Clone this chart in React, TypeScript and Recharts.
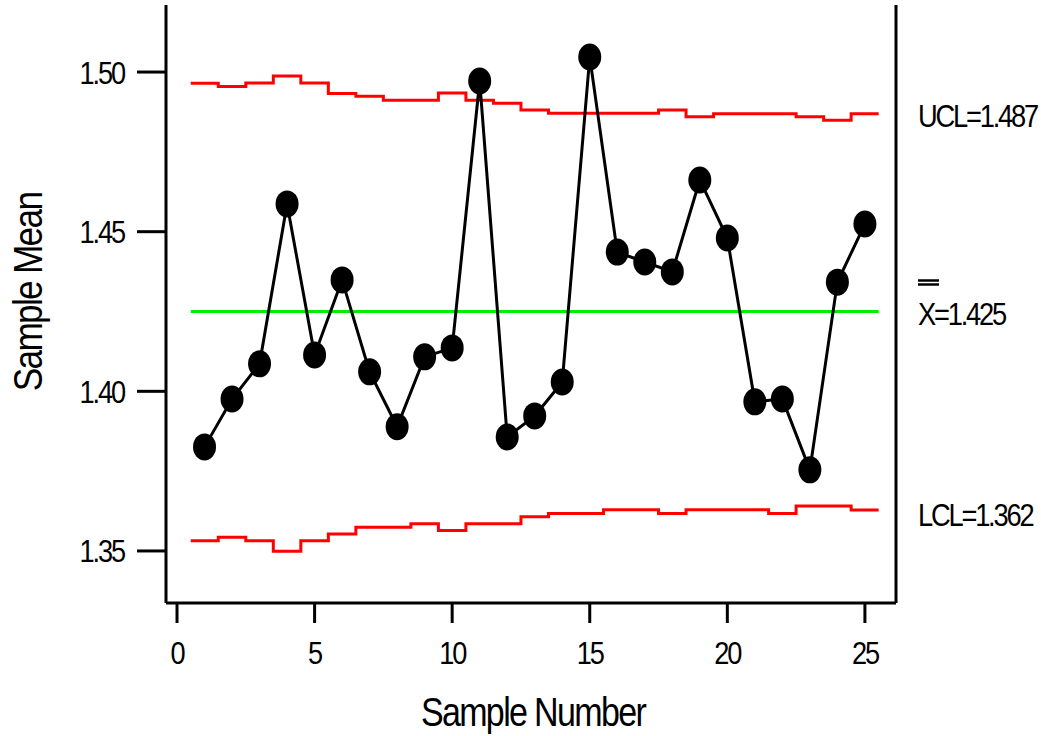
import { Line, LineChart, XAxis, YAxis } from 'recharts'

const sampleNumbers = [1, 2, 3, 4, 5, 6, 7, 8, 9, 10, 11, 12, 13, 14, 15, 16, 17, 18, 19, 20, 21, 22, 23, 24, 25]
const sampleMeans = [
  1.3826, 1.3976, 1.4086, 1.4587, 1.4114, 1.4349, 1.4061, 1.3889, 1.4108, 1.4136, 1.4972, 1.3857, 1.3923,
  1.4029, 1.5047, 1.4436, 1.4405, 1.4374, 1.4662, 1.448, 1.3967, 1.3976, 1.3754, 1.4342, 1.4524,
]
const uclValues = [
  1.4965, 1.4955, 1.4966, 1.4988, 1.4966, 1.4933, 1.4924, 1.4912, 1.4912, 1.4934, 1.4912, 1.4902, 1.4881,
  1.4871, 1.4871, 1.4871, 1.4871, 1.4881, 1.486, 1.4869, 1.4869, 1.4869, 1.486, 1.4849, 1.4869,
]
const lclValues = [
  1.3532, 1.3543, 1.3532, 1.3499, 1.3532, 1.3553, 1.3574, 1.3574, 1.3585, 1.3564, 1.3585, 1.3585, 1.3607,
  1.3617, 1.3617, 1.3629, 1.3629, 1.3617, 1.3629, 1.3629, 1.3629, 1.3617, 1.3641, 1.3641, 1.3628,
]
const centerValue = 1.425
const xTicks = [0, 5, 10, 15, 20, 25]
const yTicks = [1.35, 1.4, 1.45, 1.5]
const limitTicks = [1.362, 1.425, 1.487]
const limitLabels = ['LCL=1.362', '=1.425', 'UCL=1.487']

const FONT = '"Liberation Sans", Arial, sans-serif'
const Y_DOMAIN: [number, number] = [1.3337, 1.521]
const X_DOMAIN: [number, number] = [-0.4, 26.13]

const meanData = sampleNumbers.map((n, i) => ({ n, mean: sampleMeans[i] }))
// step limits: each sample's limit spans n-0.5 .. n+0.5
const stepData = (vals: number[]) => [
  ...sampleNumbers.map((n, i) => ({ n: n - 0.5, v: vals[i] })),
  { n: sampleNumbers[sampleNumbers.length - 1] + 0.5, v: vals[vals.length - 1] },
]
const uclData = stepData(uclValues)
const lclData = stepData(lclValues)
const centerData = [
  { n: sampleNumbers[0] - 0.5, v: centerValue },
  { n: sampleNumbers[sampleNumbers.length - 1] + 0.5, v: centerValue },
]

// narrow, tightly spaced text like the original plot
function NarrowText({ x, y, anchor, size, spacing = -2.5, sx = 0.85, rotate = 0, dy, children }: any) {
  return (
    <g transform={`translate(${x}, ${y}) rotate(${rotate}) scale(${sx}, 1)`}>
      <text x={0} y={0} dy={dy} textAnchor={anchor} fontFamily={FONT} fontSize={size} fill="#000" style={{ letterSpacing: spacing }}>
        {children}
      </text>
    </g>
  )
}

function Dot({ cx, cy, index }: any) {
  if (cx == null || cy == null) return null
  return <ellipse key={index} cx={cx} cy={cy} rx={11.5} ry={13.5} fill="#000" />
}

function LeftTick({ x, y, payload }: any) {
  return (
    <NarrowText x={x} y={y} dy="0.36em" anchor="end" size={32}>
      {Number(payload.value).toFixed(2)}
    </NarrowText>
  )
}

function BottomTick({ x, y, payload }: any) {
  return (
    <NarrowText x={x} y={y} dy="0.71em" anchor="middle" size={32}>
      {payload.value}
    </NarrowText>
  )
}

function RightTick({ x, y, payload, index }: any) {
  const label = limitLabels[index]
  const isCenter = payload.value === centerValue
  return (
    <g>
      {isCenter && (
        <g stroke="#000" strokeWidth={2.5}>
          <line x1={x} x2={x + 21} y1={y - 31} y2={y - 31} />
          <line x1={x} x2={x + 21} y1={y - 27} y2={y - 27} />
        </g>
      )}
      <NarrowText x={x} y={y + 2} dy="0.36em" anchor="start" size={31} sx={0.88}>
        {isCenter ? 'X' + label : label}
      </NarrowText>
    </g>
  )
}

export default function App() {
  return (
    <div style={{ width: 1041, height: 736, background: '#fff' }}>
      <style>{'body{margin:0}'}</style>
      <LineChart width={1041} height={736} margin={{ top: 5, right: 0, bottom: 0, left: 0 }}>
        <XAxis
          dataKey="n"
          type="number"
          domain={X_DOMAIN}
          allowDataOverflow
          ticks={xTicks}
          interval={0}
          height={133}
          stroke="#000"
          strokeWidth={3}
          tickSize={20}
          tickMargin={18}
          tick={<BottomTick />}
          label={{
            content: ({ viewBox }: any) => (
              <NarrowText x={viewBox.x + viewBox.width / 2 + 2} y={viewBox.y + viewBox.height - 10} anchor="middle" size={41} spacing={-2} sx={0.83}>
                Sample Number
              </NarrowText>
            ),
          }}
        />
        <XAxis xAxisId="top" orientation="top" dataKey="n" type="number" domain={X_DOMAIN} allowDataOverflow height={0} tick={false} tickLine={false} stroke="#000" strokeWidth={3} />
        <YAxis
          type="number"
          domain={Y_DOMAIN}
          allowDataOverflow
          ticks={yTicks}
          interval={0}
          width={166}
          stroke="#000"
          strokeWidth={3}
          tickSize={29}
          tickMargin={13}
          tick={<LeftTick />}
          label={{
            content: ({ viewBox }: any) => (
              <NarrowText x={viewBox.x + 42} y={viewBox.y + viewBox.height / 2 - 12} rotate={-90} anchor="middle" size={41} spacing={-2} sx={0.86}>
                Sample Mean
              </NarrowText>
            ),
          }}
        />
        <YAxis yAxisId="right" orientation="right" type="number" domain={Y_DOMAIN} allowDataOverflow ticks={limitTicks} interval={0} width={145} stroke="#000" strokeWidth={3} tickLine={false} tickSize={0} tickMargin={22} tick={<RightTick />} />
        <Line data={uclData} dataKey="v" type="stepAfter" stroke="#ff0000" strokeWidth={3} dot={false} isAnimationActive={false} />
        <Line data={lclData} dataKey="v" type="stepAfter" stroke="#ff0000" strokeWidth={3} dot={false} isAnimationActive={false} />
        <Line data={centerData} dataKey="v" type="linear" stroke="#00ee00" strokeWidth={3} dot={false} isAnimationActive={false} />
        <Line data={meanData} dataKey="mean" type="linear" stroke="#000" strokeWidth={3} dot={<Dot />} isAnimationActive={false} />
      </LineChart>
    </div>
  )
}
